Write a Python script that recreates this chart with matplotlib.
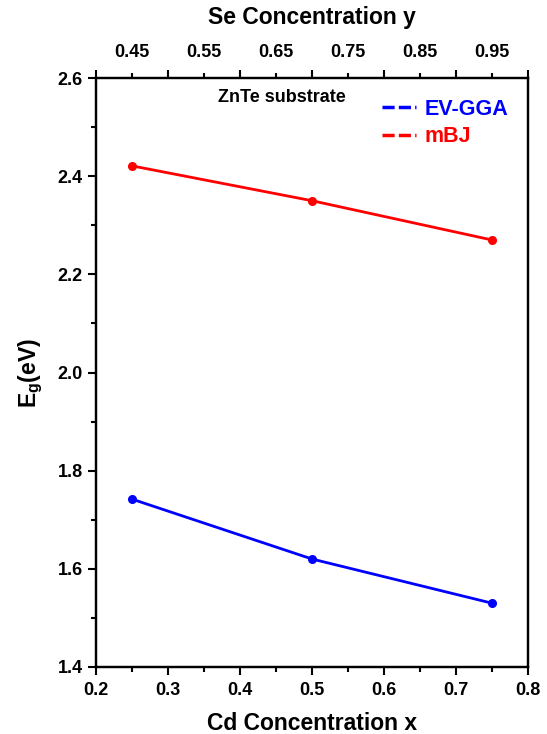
import matplotlib
matplotlib.use("Agg")
import matplotlib.pyplot as plt
from matplotlib.lines import Line2D
import numpy as np

plt.rcParams['font.family'] = ['Liberation Sans', 'DejaVu Sans']
plt.rcParams['font.weight'] = 'bold'
plt.rcParams['mathtext.fontset'] = 'custom'
plt.rcParams['mathtext.rm'] = 'Liberation Sans:bold'
plt.rcParams['mathtext.bf'] = 'Liberation Sans:bold'
plt.rcParams['mathtext.it'] = 'Liberation Sans:bold'

# Data
cd_x = [0.25, 0.50, 0.75]
ev_gga = [1.742, 1.620, 1.530]
mbj = [2.421, 2.350, 2.270]
series_names = ['EV-GGA', 'mBJ']
series_colors = ['#0000ff', '#ff0000']
bottom_ticks = [0.2, 0.3, 0.4, 0.5, 0.6, 0.7, 0.8]
top_label_pos = [0.25, 0.35, 0.45, 0.55, 0.65, 0.75]
top_labels = ['0.45', '0.55', '0.65', '0.75', '0.85', '0.95']
y_ticks = [1.4, 1.6, 1.8, 2.0, 2.2, 2.4, 2.6]

fig = plt.figure(figsize=(5.47, 7.34), dpi=100)
ax = fig.add_axes([0.1755, 0.0913, 0.7898, 0.8024])

for vals, name, col in zip([ev_gga, mbj], series_names, series_colors):
    ax.plot(cd_x, vals, color=col, lw=2, marker='o', ms=5.5, label=name)

ax.set_xlim(0.2, 0.8)
ax.set_ylim(1.4, 2.6)
ax.set_xticks(bottom_ticks)
ax.set_xticklabels([f'{t:.1f}' for t in bottom_ticks])
ax.set_xticks(top_label_pos, minor=True)
ax.set_yticks(y_ticks)
ax.set_yticklabels([f'{t:.1f}' for t in y_ticks])
ax.set_yticks(np.arange(1.5, 2.6, 0.2), minor=True)
ax.tick_params(axis='both', which='major', direction='out', length=6, width=1.5,
               labelsize=13, right=False, top=False)
ax.tick_params(axis='x', which='major', pad=5)
ax.tick_params(axis='both', which='minor', direction='out', length=3.5, width=1.5,
               right=False, top=False)
for s in ax.spines.values():
    s.set_linewidth(1.6)

ax.set_xlabel('Cd Concentration x', fontsize=16.5, fontweight='bold', labelpad=9)
ax.set_ylabel(r'E$_\mathrm{g}$(eV)', fontsize=16.5, fontweight='bold', labelpad=9)

# top axis
ax2 = ax.twiny()
ax2.set_xlim(0.2, 0.8)
ax2.set_xticks(bottom_ticks)
ax2.set_xticklabels([''] * len(bottom_ticks))
ax2.set_xticks(top_label_pos, minor=True)
ax2.set_xticklabels(top_labels, minor=True)
ax2.tick_params(axis='x', which='major', direction='out', length=6, width=1.5)
ax2.tick_params(axis='x', which='minor', direction='out', length=3.5, width=1.5,
                labelsize=13, pad=9)
ax2.set_xlabel('Se Concentration y', fontsize=16.5, fontweight='bold', labelpad=14)
for s in ax2.spines.values():
    s.set_linewidth(1.6)

ax.text(0.43, 0.967, 'ZnTe substrate', transform=ax.transAxes, ha='center', va='center',
        fontsize=13, fontweight='bold')

handles = [Line2D([0], [0], color=c, lw=2.5, linestyle=(0, (3.5, 1.2))) for c in series_colors]
leg = ax.legend(handles, series_names, loc='upper right', bbox_to_anchor=(0.99, 0.99),
                frameon=False, fontsize=15.5, handlelength=1.6, handletextpad=0.4,
                labelspacing=0.3, borderaxespad=0.3)
for t, c in zip(leg.get_texts(), series_colors):
    t.set_color(c)
    t.set_fontweight('bold')

fig.savefig('out.png', dpi=100)
